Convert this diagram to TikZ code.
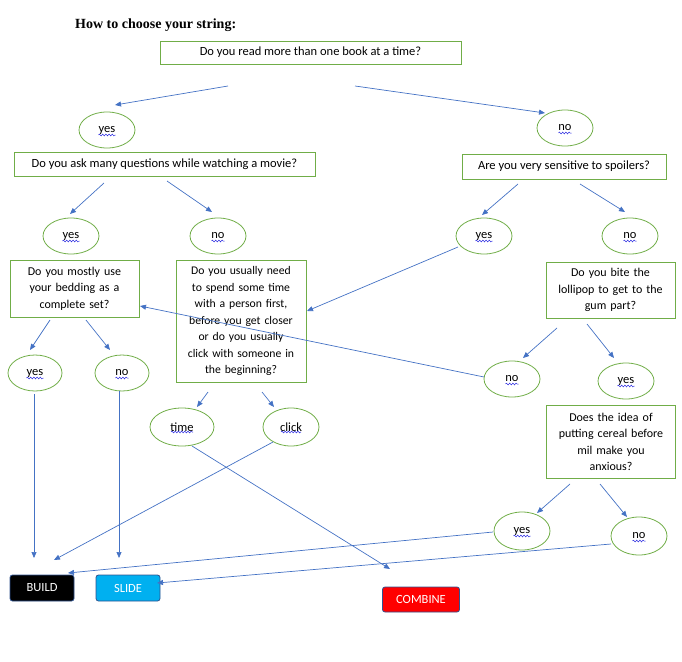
\documentclass[tikz,border=0pt]{standalone}
\usepackage{fontspec}
\setmainfont{Carlito}
\newfontfamily\titlefont{Liberation Serif}
\usetikzlibrary{arrows.meta, shapes.geometric, decorations.pathmorphing}

\definecolor{qgreen}{HTML}{70AD47}
\definecolor{arrblue}{HTML}{4472C4}
\definecolor{spellblue}{HTML}{2A2AE0}
\definecolor{darkedge}{HTML}{2F528F}
\definecolor{slidefill}{HTML}{00B0F0}

% wavy spell-check mark under a word
\newcommand{\squig}[2]{\draw[spell] ([shift={(-#2/2,5)}]#1.center) -- ++(#2,0);}

\begin{document}
\begin{tikzpicture}[
  x=1pt, y=-1pt,
  font=\fontsize{12.5}{16.5}\selectfont,
  question/.style={draw=qgreen, line width=0.9pt, rectangle, align=center,
                   inner sep=2pt},
  multi/.style={question, text width=125pt, font=\fontsize{12}{16.5}\selectfont},
  answer/.style={draw=qgreen, line width=0.8pt, ellipse, minimum width=56pt,
                 minimum height=36pt, inner sep=0pt},
  outcome/.style={draw=darkedge, line width=0.8pt, rounded corners=2.5pt,
                  text=white, minimum height=26pt, inner sep=0pt},
  arr/.style={-{Triangle[length=6pt, width=5pt]}, draw=arrblue, line width=0.7pt},
  spell/.style={draw=spellblue, line width=0.5pt, decorate,
                decoration={snake, amplitude=0.9pt, segment length=3.2pt}},
]
  \useasboundingbox (0,0) rectangle (682,661);

  % ---- title ----
  \node[anchor=west, inner sep=0pt, font=\titlefont\bfseries\fontsize{14}{16}\selectfont]
    (title) at (75,25) {How to choose your string:};

  % ---- questions ----
  \node[question, minimum width=301pt, minimum height=23pt] (q1) at (310.5,52.5)
    {Do you read more than one book at a time?};
  \node[question, minimum width=301pt, minimum height=24pt] (q2) at (164.5,164)
    {Do you ask many questions while watching a movie?};
  \node[question, minimum width=204pt, minimum height=25pt] (q3) at (564,166.5)
    {Are you very sensitive to spoilers?};
  \node[multi, minimum height=57pt] (q4) at (74.5,288.5)
    {Do you mostly use\\your bedding as a\\complete set?};
  \node[multi, text width=126pt, minimum height=122pt, font=\fontsize{11.7}{16.5}\selectfont] (q5) at (241,321)
    {Do you usually need\\to spend some time\\with a person first,\\before you get closer\\or do you usually\\click with someone in\\the beginning?};
  \node[multi, minimum height=56pt] (q6) at (610.5,290)
    {Do you bite the\\lollipop to get to the\\gum part?};
  \node[multi, minimum height=73pt] (q7) at (611,442)
    {Does the idea of\\putting cereal before\\mil make you\\anxious?};

  % ---- answers ----
  \node[answer] (yes1) at (107,130) {yes};
  \node[answer] (no1)  at (565,128) {no};
  \node[answer] (yes2) at (71,236)  {yes};
  \node[answer] (no2)  at (218,236) {no};
  \node[answer] (yes3) at (484,236) {yes};
  \node[answer] (no3)  at (630,236) {no};
  \node[answer, minimum width=54pt] (yes4) at (35,373)  {yes};
  \node[answer, minimum width=54pt] (no4)  at (122,373) {no};
  \node[answer] (no6)  at (512,379) {no};
  \node[answer] (yes6) at (626,381) {yes};
  \node[answer, minimum width=64pt, minimum height=38pt] (time)  at (182,427) {time};
  \node[answer, minimum height=38pt] (click) at (291,427) {click};
  \node[answer, minimum height=38pt] (yes7) at (522,531) {yes};
  \node[answer, minimum height=38pt] (no7)  at (639,536) {no};

  % ---- outcomes ----
  \node[outcome, fill=black, minimum width=64pt] (build) at (42,588) {BUILD};
  \node[outcome, fill=slidefill, minimum width=64pt] (slide) at (128,588) {SLIDE};
  \node[outcome, fill=red, minimum width=77pt, minimum height=25pt] (combine) at (421,599.5) {COMBINE};

  % ---- spell-check squiggles ----
  \squig{yes1}{17} \squig{no1}{13} \squig{yes2}{17} \squig{no2}{13}
  \squig{yes3}{17} \squig{no3}{13} \squig{yes4}{17} \squig{no4}{13}
  \squig{no6}{13}  \squig{yes6}{17} \squig{time}{22} \squig{click}{20}
  \squig{yes7}{17} \squig{no7}{13}

  % ---- question -> answers ----
  \draw[arr] ([shift={(-82.5,33.5)}]q1.center) -- ([shift={(8,-25)}]yes1.center);
  \draw[arr] ([shift={(44.5,33.5)}]q1.center)  -- ([shift={(-20,-15)}]no1.center);
  \draw[arr] ([shift={(-60.5,19)}]q2.center)   -- ([shift={(-1,-22)}]yes2.center);
  \draw[arr] ([shift={(2.5,17)}]q2.center)     -- ([shift={(-6,-24)}]no2.center);
  \draw[arr] ([shift={(-46,17.5)}]q3.center)   -- ([shift={(-2,-21)}]yes3.center);
  \draw[arr] ([shift={(16,17.5)}]q3.center)    -- ([shift={(-5,-24)}]no3.center);
  \draw[arr] ([shift={(-24.5,31.5)}]q4.center) -- ([shift={(-5,-23)}]yes4.center);
  \draw[arr] ([shift={(11.5,31.5)}]q4.center)  -- ([shift={(-12,-23)}]no4.center);
  \draw[arr] ([shift={(-53.5,38)}]q6.center)   -- ([shift={(11,-21)}]no6.center);
  \draw[arr] ([shift={(-23.5,34)}]q6.center)   -- ([shift={(-12,-23)}]yes6.center);
  \draw[arr] ([shift={(-33,71)}]q5.center)     -- ([shift={(15,-20)}]time.center);
  \draw[arr] ([shift={(21,71)}]q5.center)      -- ([shift={(-17,-20)}]click.center);
  \draw[arr] ([shift={(-41,42)}]q7.center)     -- ([shift={(15,-18)}]yes7.center);
  \draw[arr] ([shift={(-11,42)}]q7.center)     -- ([shift={(-12,-19)}]no7.center);

  % ---- answers -> next question ----
  \draw[arr] ([shift={(-26,11)}]yes3.center)   -- ([shift={(66,-10)}]q5.center);
  \draw[arr] ([shift={(-28,-2)}]no6.center)    -- ([shift={(65.5,17.5)}]q4.center);

  % ---- answers -> outcomes ----
  \draw[arr] ([shift={(-1,21)}]yes4.center)    -- ([shift={(-8,-30)}]build.center);
  \draw[arr] ([shift={(-3,18)}]no4.center)     -- ([shift={(-9,-30)}]slide.center);
  \draw[arr] ([shift={(-18,15)}]click.center)  -- ([shift={(12,-28)}]build.center);
  \draw[arr] ([shift={(10,19)}]time.center)    -- ([shift={(-31,-30.5)}]combine.center);
  \draw[arr] ([shift={(-29,1)}]yes7.center)    -- ([shift={(26,-15)}]build.center);
  \draw[arr] ([shift={(-28,8)}]no7.center)     -- ([shift={(29,-5)}]slide.center);
\end{tikzpicture}
\end{document}
